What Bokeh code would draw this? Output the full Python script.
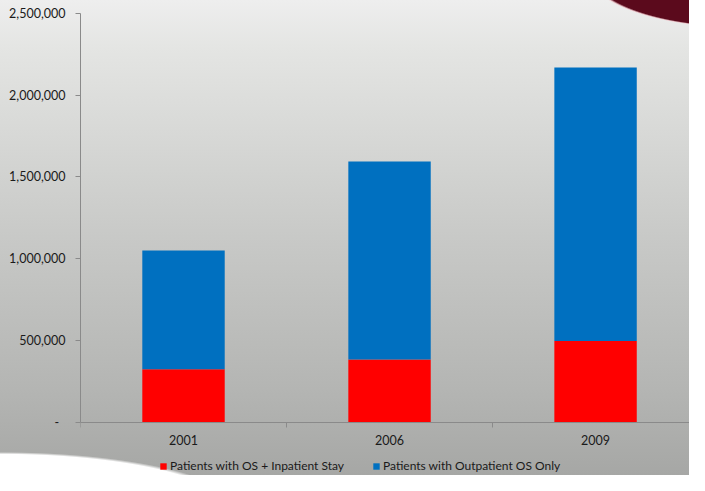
from bokeh.plotting import figure
from bokeh.models import (ColumnDataSource, Range1d, FixedTicker, NumeralTickFormatter,
                          Legend, LegendItem)
from bokeh.embed import file_html
from bokeh.resources import INLINE

# ---- data ----
years = ["2001", "2006", "2009"]
inpatient = [323000, 383000, 497000]          # Patients with OS + Inpatient Stay
outpatient_only = [727000, 1212000, 1673000]   # Patients with Outpatient OS Only
series_names = ["Patients with OS + Inpatient Stay", "Patients with Outpatient OS Only"]
y_ticks = [0, 500000, 1000000, 1500000, 2000000, 2500000]

x_pos = [i + 0.5 for i in range(len(years))]
source = ColumnDataSource(dict(x=x_pos, inpatient=inpatient, outpatient=outpatient_only))

FONT = "Lato"
TXT = "#1a1a1a"
AX = "#8a8a8a"
FS = "12.5px"

# the frame runs down to the figure's bottom so that the legend can sit under the axis
p = figure(width=689, height=475, output_backend="svg", toolbar_location=None,
           x_range=Range1d(0, 2.956), y_range=Range1d(-326400, 2500000),
           min_border_left=80, min_border_right=0, min_border_top=13, min_border_bottom=0)

p.styles = {
    "background-image": (
        "radial-gradient(ellipse 156px 56px at 743px -28px, #5b0a1c 97%, rgba(240,200,205,0.8) 99%, rgba(0,0,0,0) 100%),"
        "radial-gradient(ellipse 240px 58px at 0px 510px, #ffffff 96%, rgba(255,255,255,0) 100%),"
        "linear-gradient(to bottom, #eeeeee 0%, #e4e5e3 10%, #c8c9c7 50%, #b4b5b3 82%, #a6a7a5 100%)"
    )
}
p.background_fill_color = None
p.border_fill_color = None
p.outline_line_color = None
p.grid.grid_line_color = None

renderers = p.vbar_stack(["inpatient", "outpatient"], x="x", width=0.40, source=source,
                         color=["#ff0000", "#0070c0"], line_color=None)

# y axis
ya = p.yaxis[0]
ya.bounds = (0, 2500000)
ya.ticker = FixedTicker(ticks=y_ticks, minor_ticks=[])
ya.formatter = NumeralTickFormatter(format="0,0")
ya.major_label_overrides = {0: "-\u00a0\u00a0"}
ya.axis_line_color = AX
ya.major_tick_line_color = AX
ya.major_tick_out = 5
ya.major_tick_in = 0
ya.minor_tick_line_color = None
ya.major_label_standoff = 10
ya.major_label_text_font = FONT
ya.major_label_text_font_size = FS
ya.major_label_text_color = TXT

# x axis, pinned at y = 0
xa = p.xaxis[0]
xa.fixed_location = 0
xa.ticker = FixedTicker(ticks=x_pos, minor_ticks=[0, 1, 2, 3])
xa.major_label_overrides = {x: y for x, y in zip(x_pos, years)}
xa.axis_line_color = AX
xa.major_tick_line_color = None
xa.major_tick_out = 0
xa.major_tick_in = 0
xa.minor_tick_line_color = AX
xa.minor_tick_out = 5
xa.minor_tick_in = 0
xa.major_label_standoff = 8
xa.major_label_text_font = FONT
xa.major_label_text_font_size = FS
xa.major_label_text_color = TXT

legend = Legend(items=[LegendItem(label=series_names[0], renderers=[renderers[0]]),
                       LegendItem(label=series_names[1], renderers=[renderers[1]])],
                orientation="horizontal", location=(79, 2),
                padding=0, margin=0, spacing=28,
                glyph_width=8, glyph_height=8, label_height=12, label_standoff=3,
                label_text_font=FONT, label_text_font_size="12px", label_text_color=TXT,
                background_fill_alpha=0, border_line_alpha=0)
p.add_layout(legend, "center")

open("out.html", "w").write(file_html(p, INLINE))
